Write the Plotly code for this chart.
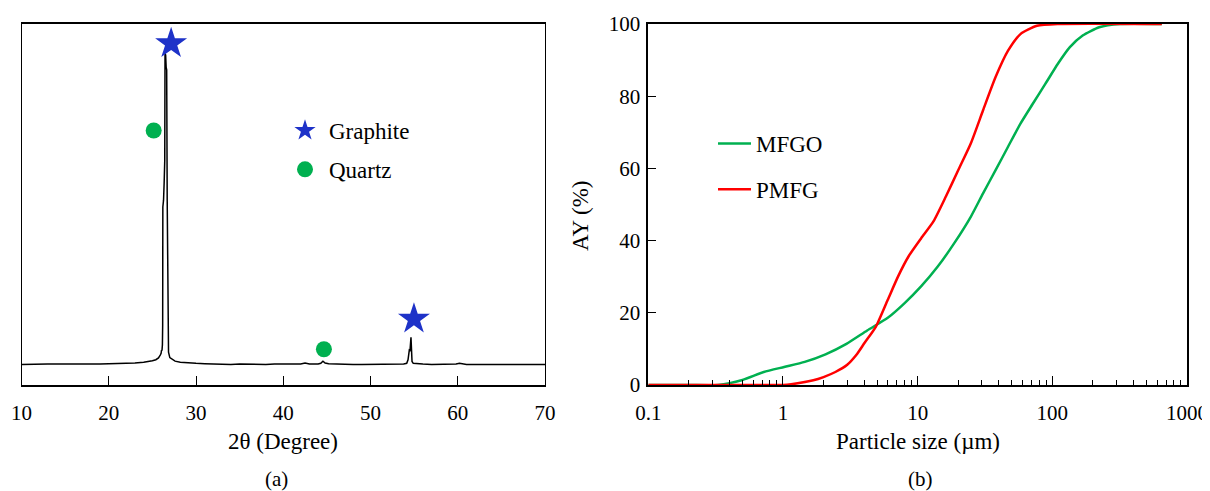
import plotly.graph_objects as go

# ---------------- (a) XRD pattern ----------------
two_theta = [10, 11, 12, 13, 14, 15, 16, 17, 18, 19, 20, 21, 22, 23, 24, 24.5, 25, 25.4, 25.7,
             25.9, 26.0, 26.05, 26.1, 26.15, 26.18, 26.2, 26.28, 26.35, 26.42, 26.45, 26.52,
             26.58, 26.64, 26.7, 26.76, 26.85, 27.0, 27.3, 27.6, 28.2, 29, 30, 31, 32, 33, 34,
             35, 36, 37, 38, 39, 40, 41, 42, 42.5, 43, 44, 44.3, 44.55, 44.8, 45.2, 46, 47, 48,
             49, 50, 51, 52, 53, 53.8, 54.15, 54.3, 54.45, 54.53, 54.64, 54.7, 54.76, 54.9,
             55.5, 56, 57, 58, 59, 59.8, 60.2, 60.6, 61, 62, 63, 64, 65, 66, 67, 68, 69, 70]
intensity = [57, 58, 57, 58, 58, 57, 58, 58, 57, 58, 59, 59, 60, 61, 63, 64, 67, 70, 75,
             83, 88, 97, 95, 111, 166, 493, 512, 560, 623, 920, 914,
             880, 873, 512, 152, 91, 76, 70, 66, 63, 61, 60, 59, 58, 58, 57,
             58, 57, 58, 57, 58, 58, 57, 58, 61, 58, 58, 60, 66, 61, 59, 58, 57, 57,
             57, 57, 57, 56, 57, 58, 60, 70, 97, 96, 132, 100, 65, 60,
             58, 58, 57, 57, 57, 58, 60, 58, 57, 57, 57, 57, 56, 57, 57, 57, 57, 57]

graphite_2theta = [27.15, 54.98]
graphite_int = [946, 183]
quartz_2theta = [25.15, 44.66]
quartz_int = [705, 99]

xrd_ticks = [10, 20, 30, 40, 50, 60, 70]

# ---------------- (b) particle size distribution ----------------
mfgo_size = [0.1, 0.2, 0.33, 0.5, 0.72, 1.02, 1.45, 2.07, 2.96, 4.22, 6.0, 7.97, 10.6, 14.1,
             18.7, 24.8, 30.6, 37.9, 46.9, 58, 71.6, 88.7, 110, 135, 168, 223, 318, 650]
mfgo_ay = [0, 0, 0, 1.4, 3.6, 5.0, 6.4, 8.5, 11.4, 15.1, 18.6, 22.6, 27.3, 32.8,
           39.3, 46.6, 53.1, 59.5, 66.0, 72.4, 77.9, 83.4, 89.0, 93.6, 96.8, 99.1, 100, 100]

pmfg_size = [0.1, 0.5, 1.0, 1.15, 1.68, 2.0, 2.45, 3.0, 3.5, 4.04, 4.9, 6.0, 7.16, 8.55,
             10.6, 13.1, 16.2, 20, 24.8, 30.6, 37.9, 46.9, 58, 76.9, 110, 650]
pmfg_ay = [0, 0, 0, 0.2, 1.3, 2.2, 3.6, 5.6, 8.3, 11.7, 16.2, 23.6, 30.1, 35.6,
           40.6, 45.3, 52.2, 59.5, 66.9, 76.1, 85.3, 92.6, 97.2, 99.5, 100, 100]

size_ticks = [0.1, 1, 10, 100, 1000]
size_tick_text = ["0.1", "1", "10", "100", "1000"]
minor_size_ticks = [k * 10 ** d for d in range(-1, 3) for k in range(2, 10)]
ay_ticks = [0, 20, 40, 60, 80, 100]

# ---------------- styling ----------------
W, H = 1210, 491
OFF = 8  # page body margin offset of the plot div
FONT = "Liberation Serif, Times New Roman, Times, serif"
BLUE = "#1E32C8"
GREEN = "#00B050"
RED = "#FF0000"


def px_x(p):
    return (p - OFF) / W


def px_y(p):
    return 1 - (p - OFF) / H


fig = go.Figure()

fig.add_trace(go.Scatter(x=two_theta, y=intensity, mode="lines",
                         line=dict(color="black", width=1.5), showlegend=False,
                         xaxis="x", yaxis="y"))
fig.add_trace(go.Scatter(x=graphite_2theta, y=graphite_int, mode="markers", name="Graphite",
                         marker=dict(symbol="star", size=24, color=BLUE),
                         xaxis="x", yaxis="y", legend="legend", legendgroup="g"))
fig.add_trace(go.Scatter(x=quartz_2theta, y=quartz_int, mode="markers", name="Quartz",
                         marker=dict(symbol="circle", size=16, color=GREEN),
                         xaxis="x", yaxis="y", legend="legend", legendgroup="q"))

fig.add_trace(go.Scatter(x=mfgo_size, y=mfgo_ay, mode="lines", name="MFGO",
                         line=dict(color=GREEN, width=2.5, shape="spline", smoothing=0.6),
                         xaxis="x2", yaxis="y2", legend="legend2", legendgroup="m"))
fig.add_trace(go.Scatter(x=pmfg_size, y=pmfg_ay, mode="lines", name="PMFG",
                         line=dict(color=RED, width=2.5, shape="spline", smoothing=0.6),
                         xaxis="x2", yaxis="y2", legend="legend2", legendgroup="p"))

ydom = [px_y(385), px_y(24)]


def label(text, x, y, size=23, angle=0):
    return dict(text=text, x=px_x(x), y=px_y(y), xref="paper", yref="paper",
                xanchor="center", yanchor="middle", showarrow=False, textangle=angle,
                font=dict(family=FONT, size=size))


fig.update_layout(
    width=W, height=H, autosize=False,
    margin=dict(l=0, r=0, t=0, b=0, pad=0, autoexpand=False),
    paper_bgcolor="white", plot_bgcolor="white",
    font=dict(family=FONT, size=21, color="black"),
    xaxis=dict(domain=[px_x(21.5), px_x(545)], range=[10, 70], tickvals=xrd_ticks,
               ticks="inside", ticklen=9, tickwidth=1, tickcolor="black",
               showline=True, linecolor="black", linewidth=1.5, mirror=True,
               showgrid=False, zeroline=False, anchor="y", automargin=False,
               ticklabelstandoff=8, tickfont=dict(family=FONT, size=21)),
    yaxis=dict(domain=ydom, range=[0, 1000], showticklabels=False, ticks="",
               showline=True, linecolor="black", linewidth=1, mirror=True,
               showgrid=False, zeroline=False, anchor="x", automargin=False),
    xaxis2=dict(domain=[px_x(648.3), px_x(1187)], type="log", range=[-1, 3],
                tickvals=size_ticks, ticktext=size_tick_text,
                ticks="inside", ticklen=9, tickwidth=1, tickcolor="black",
                minor=dict(tickvals=minor_size_ticks, ticks="inside", ticklen=5,
                           tickcolor="black", tickwidth=1, showgrid=False),
                showline=True, linecolor="black", linewidth=1.5, mirror=True,
                showgrid=False, zeroline=False, anchor="y2", automargin=False,
                ticklabelstandoff=8, tickfont=dict(family=FONT, size=21)),
    yaxis2=dict(domain=ydom, range=[0, 100], tickvals=ay_ticks,
                ticks="inside", ticklen=8, tickwidth=1, tickcolor="black",
                showline=True, linecolor="black", linewidth=1.5, mirror=True,
                showgrid=False, zeroline=False, anchor="x2", automargin=False,
                ticklabelstandoff=2, tickfont=dict(family=FONT, size=21)),
    legend=dict(x=px_x(281), y=px_y(109), xanchor="left", yanchor="top",
                bgcolor="rgba(0,0,0,0)", borderwidth=0, traceorder="grouped",
                itemwidth=38, tracegroupgap=6, font=dict(family=FONT, size=23)),
    legend2=dict(x=px_x(713), y=px_y(122), xanchor="left", yanchor="top",
                 bgcolor="rgba(0,0,0,0)", borderwidth=0, traceorder="grouped",
                 itemwidth=33, tracegroupgap=13, font=dict(family=FONT, size=23)),
    annotations=[
        label("2θ (Degree)", 283, 441),
        label("(a)", 276, 479, 21),
        label("Particle size (µm)", 918, 441),
        label("(b)", 920, 479, 21),
        label("AY (%)", 580, 216, 23, -90),
    ],
)

fig.write_html("out.html")
